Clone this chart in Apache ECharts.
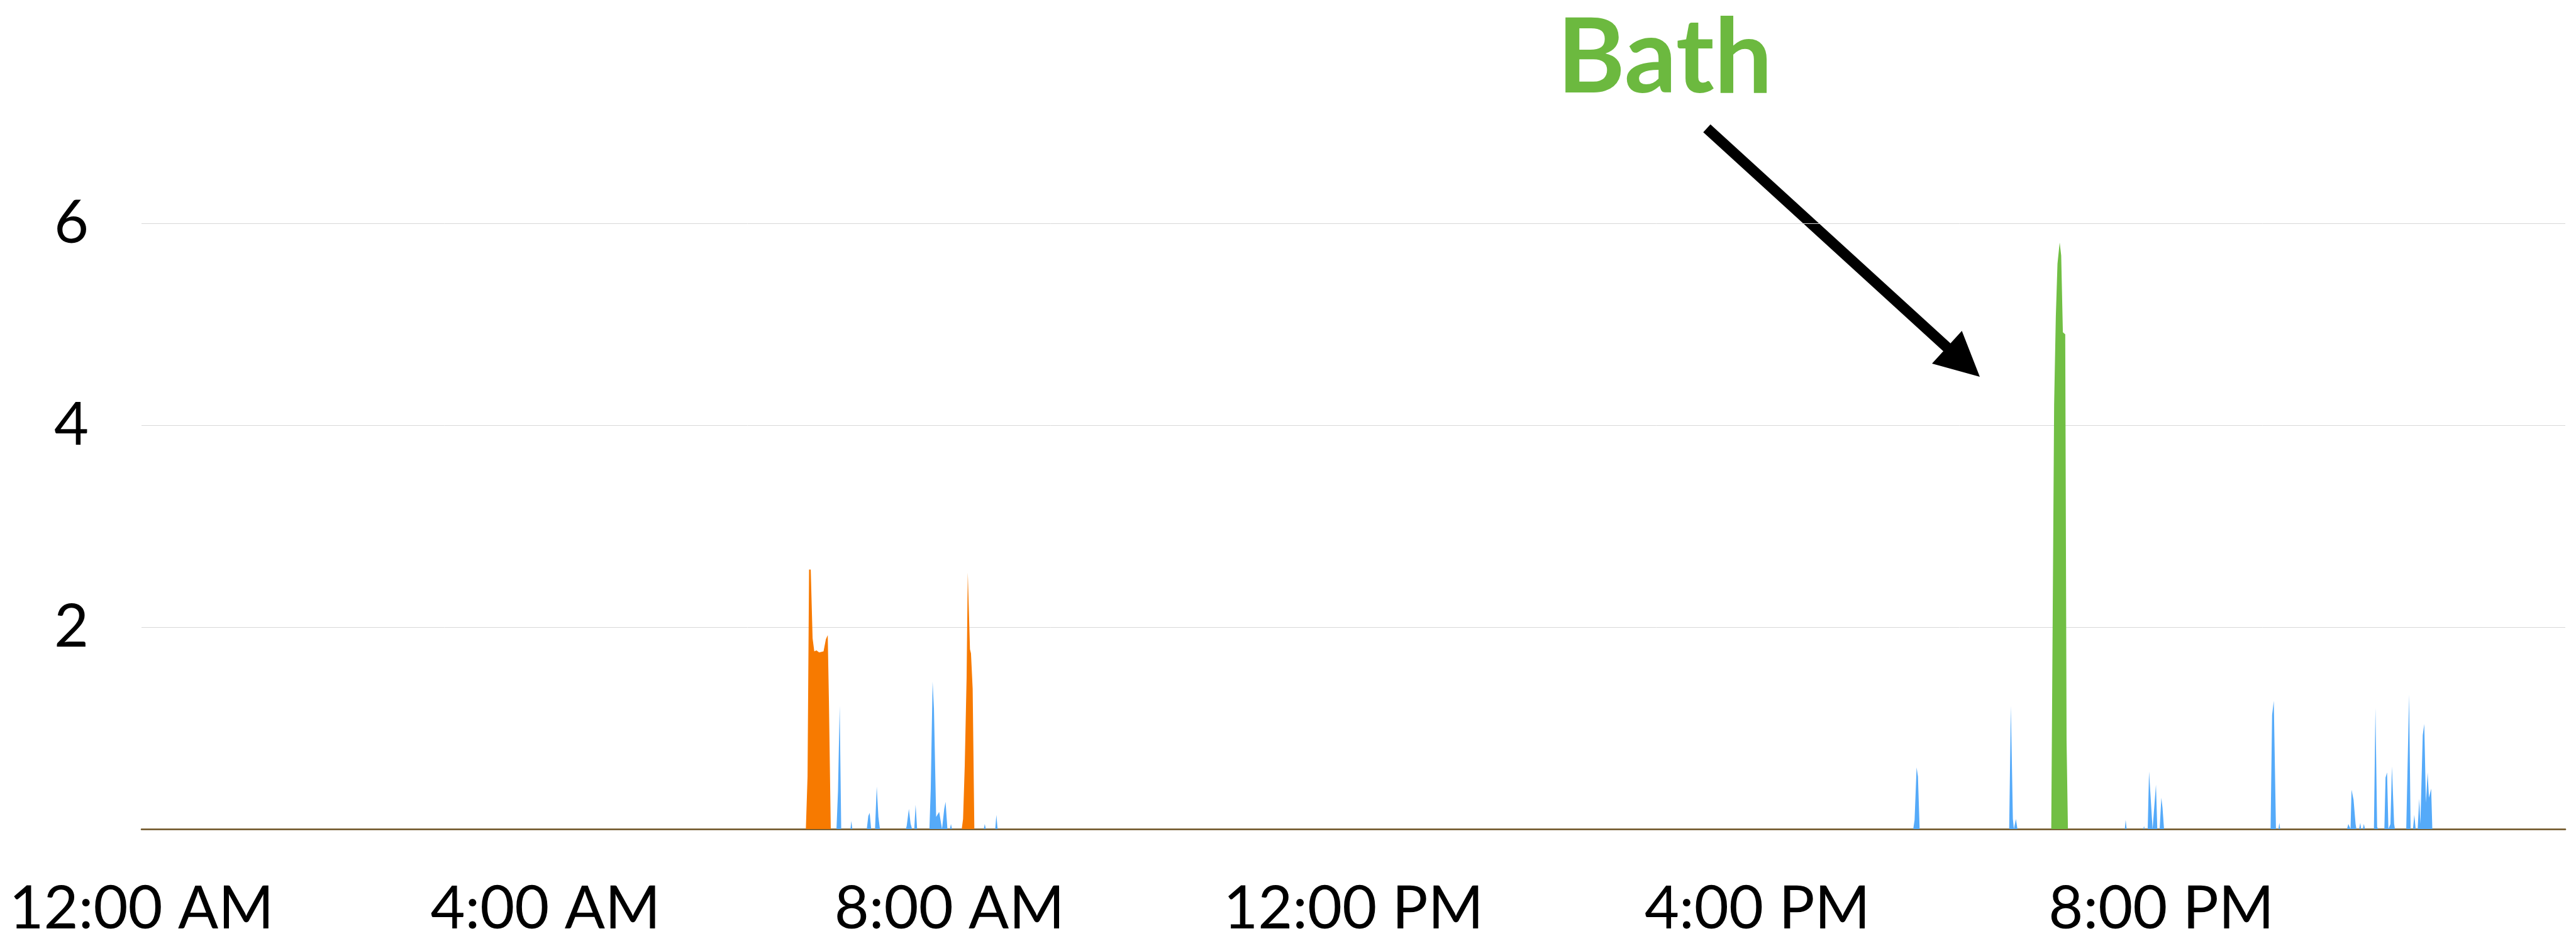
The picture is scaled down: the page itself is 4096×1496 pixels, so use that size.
<!DOCTYPE html>
<html>
<head>
<meta charset="utf-8">
<script src="https://cdn.jsdelivr.net/npm/echarts@6/dist/echarts.min.js"></script>
<style>
  html, body { margin: 0; padding: 0; background: #fff; }
  #chart { width: 4096px; height: 1496px; }
</style>
</head>
<body>
<div id="chart"></div>
<script>
// x = minutes since midnight, y = flow
var timeLabels = ['12:00 AM', '4:00 AM', '8:00 AM', '12:00 PM', '4:00 PM', '8:00 PM'];
var yTicks = [2, 4, 6];

// orange (shower?) spikes in the morning
var orangeData = [
    [0, 0], [394.7, 0], [395.7, 0.52], [396.6, 2.57], [397.6, 2.57], [398.7, 1.89],
    [399.7, 1.76], [401, 1.77], [402.6, 1.75], [405.2, 1.76], [406.6, 1.88], [407.7, 1.92],
    [408.4, 1.27], [409.5, 0],
    [487.3, 0], [488.1, 0.1], [489.1, 0.63], [490.2, 1.5], [490.9, 2.54], [492.2, 1.78],
    [492.8, 1.74], [493.8, 1.39], [494.8, 0],
    [1440, 0]
];

// bath
var greenData = [
    [0, 0], [1134.6, 0], [1136.3, 4.2], [1137.3, 5.07], [1138.3, 5.6], [1139.6, 5.81],
    [1140.5, 5.68], [1141.5, 4.92], [1142.9, 4.9], [1143.7, 0.87], [1144.5, 0],
    [1440, 0]
];

// small blue draws through the day
var blueData = [
    [0, 0],
    [412.9, 0], [413.8, 0.38], [414.8, 1.22], [415.7, 0],
    [421.2, 0], [421.7, 0.08], [422.3, 0],
    [430.9, 0], [431.8, 0.13], [432.6, 0.16], [433.5, 0],
    [435.8, 0], [436.8, 0.42], [437.8, 0.12], [438.7, 0],
    [454.1, 0], [454.6, 0.03], [455.9, 0.2], [456.9, 0.055], [457.8, 0],
    [459.1, 0], [459.9, 0.24], [460.8, 0],
    [468.1, 0], [468.9, 0.4], [470, 1.46], [470.8, 1.19], [472.1, 0.12], [473.9, 0.17], [475.6, 0],
    [476.2, 0], [476.9, 0.2], [477.7, 0.27], [478.8, 0],
    [480.3, 0], [480.9, 0.05], [481.5, 0],
    [500.4, 0], [501, 0.05], [501.6, 0],
    [507.2, 0], [507.9, 0.14], [508.6, 0],
    [1052.6, 0], [1053.4, 0.09], [1054.6, 0.61], [1055.4, 0.52], [1056.4, 0],
    [1109.6, 0], [1110.6, 1.22], [1111.8, 0.1], [1112.4, 0], [1113.6, 0.1], [1114.5, 0],
    [1178.3, 0], [1178.8, 0.09], [1179.4, 0],
    [1189.3, 0], [1189.7, 0.03], [1190.1, 0],
    [1191.9, 0], [1192.7, 0.57], [1194.8, 0],
    [1195, 0], [1196.8, 0.44], [1197.6, 0],
    [1199, 0], [1200, 0.31], [1200.7, 0.21], [1201.6, 0],
    [1264.9, 0], [1265.8, 1.13], [1266.8, 1.27], [1268.1, 0], [1269.6, 0], [1270.1, 0.06], [1270.6, 0],
    [1310.3, 0], [1311.1, 0.05], [1312.4, 0], [1313, 0.39], [1314.2, 0.29], [1315.4, 0.05], [1315.9, 0],
    [1317.5, 0], [1318.2, 0.06], [1318.7, 0], [1319.7, 0], [1320.3, 0.05], [1321, 0],
    [1326.3, 0], [1327.2, 1.2], [1328.2, 0.02], [1328.8, 0],
    [1332.5, 0], [1333.2, 0.51], [1334.1, 0.56], [1334.9, 0],
    [1335.5, 0], [1336.1, 0.05], [1337, 0.62], [1338.3, 0.05], [1338.8, 0],
    [1345.5, 0], [1347.2, 1.33], [1348.1, 0],
    [1349.5, 0], [1350.3, 0.14], [1351.1, 0],
    [1352.3, 0], [1353.2, 0.3], [1353.9, 0.05], [1354.6, 0.05], [1355.3, 0.93], [1356.2, 1.04],
    [1357.2, 0.26], [1358.2, 0.56], [1359, 0.31], [1360.3, 0.4], [1361, 0],
    [1440, 0]
];

var chart = echarts.init(document.getElementById('chart'));

function areaSeries(name, data, color, z) {
    return {
        name: name,
        type: 'line',
        data: data,
        z: z,
        showSymbol: false,
        symbol: 'none',
        silent: true,
        lineStyle: {width: 0, color: color},
        areaStyle: {color: color, opacity: 1}
    }
}

var option = {
    animation: false,
    backgroundColor: '#ffffff',
    grid: {left: 225, right: 17, top: 355, bottom: 178},
    xAxis: {
        type: 'value',
        min: 0,
        max: 1440,
        interval: 240,
        axisLine: {show: true, lineStyle: {color: '#6a4f20', width: 2.5}},
        axisTick: {show: false},
        splitLine: {show: false},
        axisLabel: {
            showMaxLabel: false,
            margin: 80,
            color: '#000',
            fontFamily: 'Lato',
            fontSize: 95,
            formatter: function (v) {
                return timeLabels[Math.round(v / 240)] || '';
            }
        }
    },
    yAxis: {
        type: 'value',
        min: 0,
        max: 6,
        interval: 2,
        axisLine: {show: false},
        axisTick: {show: false},
        splitLine: {lineStyle: {color: '#d8d8d8', width: 1}},
        axisLabel: {
            showMinLabel: false,
            margin: 84,
            color: '#000',
            fontFamily: 'Lato',
            fontSize: 95,
            formatter: function (v) {
                return yTicks.indexOf(v) >= 0 ? String(v) : '';
            }
        }
    },
    series: [
        areaSeries('Other', blueData, '#55aaf9', 2),
        areaSeries('Shower', orangeData, '#f77a00', 3),
        areaSeries('Bath', greenData, '#71bf44', 4)
    ],
    graphic: [
        {
            type: 'text',
            x: 2476,
            y: 94,
            style: {
                text: 'Bath',
                fill: '#6cb93f',
                font: 'bold 164px Lato',
                textAlign: 'left',
                textVerticalAlign: 'middle'
            }
        },
        {
            type: 'line',
            shape: {x1: 2714, y1: 204, x2: 3100, y2: 556},
            style: {stroke: '#000', lineWidth: 17, lineCap: 'butt'}
        },
        {
            type: 'polygon',
            shape: {points: [[3148, 599], [3072, 578], [3119.5, 526]]},
            style: {fill: '#000'}
        }
    ]
};

chart.setOption(option);
</script>
</body>
</html>
